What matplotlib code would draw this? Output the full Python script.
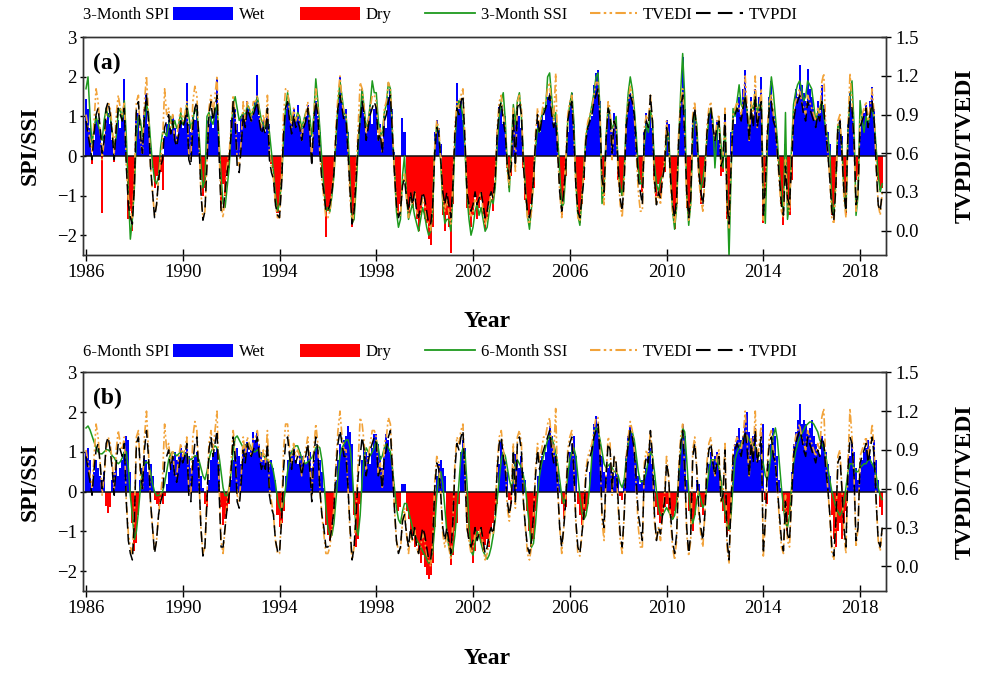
import numpy as np
import matplotlib
matplotlib.use("Agg")
import matplotlib.pyplot as plt
from matplotlib.patches import Patch
from matplotlib.lines import Line2D

plt.rcParams['font.family'] = ['Liberation Serif', 'DejaVu Serif']

# ---------------- data (monthly, Jan 1986 - Dec 2018) ----------------
start_year = 1986
end_year = 2018
year_ticks = [1986, 1990, 1994, 1998, 2002, 2006, 2010, 2014, 2018]
left_ticks = [-2, -1, 0, 1, 2, 3]
right_ticks = [0.0, 0.3, 0.6, 0.9, 1.2, 1.5]

spi3 = [
    1.45, 1.2, 0.7, -0.2, 0.4, 1.0, 0.9, 0.6, -1.45, 0.5, 0.9, 1.1,
    0.8, 0.4, -0.15, 0.5, 0.9, 0.7, 1.1, 1.95, 0.3, -1.6, -1.4, -1.9,
    -1.0, 0.9, 1.1, 0.6, 0.4, 1.2, 1.6, 0.8, 0.2, -0.3, -0.8, -0.5,
    -0.6, -0.4, -0.85, 0.5, 0.8, 0.9, 0.6, 1.0, 0.7, 0.5, 0.8, 0.9,
    0.7, 1.0, 1.85, 0.8, 0.6, 1.0, 0.9, 1.2, 0.5, -0.6, -1.0, -0.8,
    0.9, 0.8, 1.0, 0.7, 1.2, 1.95, 0.3, -1.3, -0.7, -1.0, -0.5, -0.3,
    0.9, 1.3, 1.2, 0.8, 0.6, 1.0, 1.1, 0.9, 1.4, 1.2, 1.0, 1.1,
    1.4, 2.05, 1.0, 0.7, 0.9, 0.6, 1.0, 0.8, -0.2, -0.3, -0.9, -1.45,
    -1.2, -0.5, 0.6, 1.2, 1.4, 1.0, 0.8, 1.2, 0.9, 1.3, 0.9, 0.7,
    0.8, 1.0, 1.3, 0.9, 0.2, 1.1, 1.4, 1.0, 0.6, -0.3, -1.0, -2.05,
    -1.4, -1.2, -0.9, -0.4, 0.3, 1.2, 2.0, 1.4, 1.0, 1.2, 0.6, -0.8,
    -1.8, -1.5, -0.6, 0.4, 1.0, 1.7, 1.1, 0.6, 0.9, 1.3, 0.8, 1.2,
    1.3, 0.5, 0.8, 0.3, 1.0, 0.7, 1.5, 1.7, 1.2, 0.1, -1.0, -1.5,
    -1.2, 0.95, 0.6, -1.2, -1.5, -1.0, -1.3, -1.0, -1.6, -1.9, -1.5, -1.0,
    -1.6, -1.7, -2.1, -2.25, -1.8, 0.6, 0.9, 0.7, 0.3, -1.5, -1.9, -1.5,
    -1.8, -2.45, -1.2, 0.5, 1.85, 1.2, 1.4, 0.9, 0.3, -1.3, -1.5, -1.8,
    -1.5, -1.0, -1.6, -1.3, -1.1, -1.5, -1.85, -1.6, -1.2, -0.9, -1.4, -0.5,
    0.6, 1.25, 1.2, 0.8, 1.0, -0.3, -0.8, -0.5, 1.0, 0.9, 1.3, 1.0,
    0.7, -0.3, -1.1, -1.4, -1.5, -1.2, -0.8, 0.3, 0.9, 0.6, 1.1, 0.9,
    1.3, 1.5, 1.6, 1.2, 0.8, 1.0, 0.3, -0.6, -1.5, -1.0, -0.5, 0.6,
    1.4, 1.6, 0.8, -0.8, -1.5, -1.7, -1.2, -0.6, 0.4, 0.7, 0.9, 1.0,
    1.8, 2.1, 2.17, 1.4, -0.5, -1.0, 0.5, 1.3, 1.0, 0.6, 1.1, 0.9,
    -0.6, -0.9, -1.0, -0.5, 0.8, 1.5, 1.6, 1.5, 1.2, 0.6, -0.4, -0.6,
    -0.9, 0.6, 1.1, 0.8, 1.0, 0.7, -0.6, -1.0, -0.7, -1.0, -0.5, -0.4,
    0.9, 0.8, -0.8, -1.5, -1.85, -1.2, 0.5, 1.5, 2.5, 1.2, -1.3, -1.6,
    -1.0, 1.0, 1.25, 0.6, -0.5, -1.2, -0.8, -0.3, 0.6, 1.1, 1.2, 0.8,
    0.6, 0.9, 0.4, -0.5, -0.4, 1.0, -1.6, -1.9, 0.6, 1.0, 0.8, 1.2,
    1.5, 1.1, 1.7, 2.17, 1.2, 0.8, 1.5, 1.0, 1.7, 1.0, 1.5, 2.0,
    -1.7, -1.0, 0.5, 1.5, 1.9, 1.2, 1.0, 0.5, -0.5, -1.2, -1.75, 0.3,
    -1.0, -1.5, -0.6, 1.0, 1.7, 1.5, 2.3, 1.8, 1.6, 1.4, 2.2, 1.7,
    1.5, 1.2, 1.0, 1.4, 1.1, 1.8, 1.3, 0.8, 0.6, 0.3, -1.5, -1.65,
    -0.8, 0.6, 0.9, 0.5, -1.0, -1.5, 0.8, 1.6, 1.2, 0.6, -0.6, -0.5,
    0.5, 0.9, 1.1, 1.3, 0.8, 1.4, 1.75, 1.2, 0.3, -0.6, -0.85, -0.8,
]

ssi3 = [
    1.7, 2.0, 1.0, 0.3, 0.7, 1.0, 0.8, 0.6, 0.4, 0.9, 1.2, 1.0,
    1.0, 0.6, 0.2, 0.5, 1.1, 1.2, 0.9, 1.4, 0.5, -0.9, -2.1, -1.6,
    -0.8, 0.5, 1.0, 0.9, 0.5, 0.9, 1.3, 1.1, 0.4, -0.2, -0.6, -0.7,
    -0.5, 0.2, 0.6, 0.6, 0.5, 0.8, 1.0, 0.7, 0.9, 0.7, 0.8, 1.1,
    0.8, 0.9, 1.3, 1.0, 0.7, 0.9, 1.2, 1.1, 0.6, -0.2, -0.8, -0.6,
    1.0, 1.1, 0.9, 0.8, 1.1, 1.3, 0.4, -0.5, -1.2, -1.3, -0.8, -0.3,
    0.6, 1.3, 1.5, 1.2, 0.9, 1.0, 1.1, 1.0, 1.3, 1.2, 1.0, 1.2,
    1.3, 1.5, 1.2, 0.9, 0.8, 0.7, 0.9, 0.6, 0.1, -0.4, -1.0, -1.4,
    -1.2, -0.6, 0.4, 1.2, 1.6, 1.3, 0.9, 1.0, 0.9, 1.1, 1.0, 0.7,
    0.9, 1.1, 1.2, 1.0, 0.5, 1.0, 1.95, 1.4, 0.7, -0.1, -0.8, -1.4,
    -1.3, -1.4, -1.0, -0.5, 0.4, 1.3, 1.9, 1.5, 1.1, 1.0, 0.5, -0.6,
    -1.7, -1.6, -0.8, 0.2, 1.0, 1.7, 1.2, 0.7, 0.9, 1.3, 1.9, 1.6,
    1.6, 0.9, 0.5, 0.6, 1.1, 1.3, 1.85, 1.7, 0.6, -0.3, -1.4, -1.8,
    -1.6, -0.5, 0.0, -1.0, -1.6, -1.4, -1.2, -1.5, -1.7, -1.9, -1.6, -1.3,
    -1.5, -1.8, -2.0, -1.9, -1.4, 0.2, 0.8, 0.6, -0.2, -1.2, -1.7, -1.6,
    -1.6, -1.9, -1.0, 0.3, 1.2, 1.4, 1.3, 1.0, 0.2, -1.0, -1.6, -2.0,
    -1.8, -1.4, -1.2, -1.5, -1.3, -1.6, -1.9, -1.8, -1.4, -1.1, -1.2, -0.8,
    0.3, 1.0, 1.4, 1.6, 0.9, -0.2, -0.9, 0.2, 1.3, 0.8, 1.4, 1.6,
    1.0, 0.0, -0.8, -1.5, -1.85, -1.3, -0.6, 0.2, 0.7, 0.6, 1.0, 1.2,
    1.2, 2.0, 2.1, 1.5, 0.9, 1.1, 0.5, -0.4, -1.3, -1.2, -0.4, 0.9,
    1.3, 1.6, 0.9, -0.6, -1.5, -1.75, -1.1, -0.3, 0.5, 0.8, 1.0, 1.3,
    1.6, 2.0, 2.1, 1.2, -1.2, -0.8, 0.5, 1.25, 1.0, 0.7, 0.8, 1.0,
    -0.3, -0.8, -1.0, -0.4, 0.9, 1.6, 2.0, 1.7, 1.2, 0.5, -0.3, -0.7,
    -0.7, 0.3, 0.8, 0.6, 1.15, 0.9, -0.2, -0.7, -0.9, -0.6, -0.5, -0.3,
    0.4, 0.6, -0.5, -1.4, -1.85, -1.3, 0.3, 1.6, 2.59, 1.5, -1.0, -1.75,
    -1.2, 0.5, 1.1, 0.8, -0.3, -0.85, -0.6, -0.2, 0.4, 1.0, 1.2, 0.9,
    -0.3, 0.5, 0.9, 0.3, -0.3, 0.8, -0.8, -2.55, -0.5, 1.2, 1.0, 1.4,
    1.8, 1.3, 1.2, 1.5, 1.1, 0.7, 1.3, 1.2, 1.6, 1.1, 1.3, 1.5,
    -1.0, -1.7, 0.2, 1.4, 2.0, 1.6, 1.0, 0.4, -0.4, -1.0, -1.4, 1.1,
    -1.6, -1.2, 0.2, 1.3, 1.6, 1.8, 1.9, 1.7, 1.4, 1.5, 1.9, 1.8,
    1.7, 1.3, 0.9, 1.1, 1.2, 1.4, 1.0, 0.7, 0.5, 0.1, -1.2, -1.5,
    -0.6, 0.8, 0.7, 0.3, -0.9, -1.4, 0.6, 1.5, 1.9, 0.8, -1.5, -1.0,
    1.4, 0.9, 0.6, 1.0, 0.8, 1.1, 1.2, 0.9, 0.2, -0.5, -0.9, -0.7,
]

spi6 = [
    1.0, 1.1, 0.8, 0.1, 0.5, 0.8, 0.6, 0.4, 0.3, 0.5, -0.35, -0.55,
    -0.4, 0.3, 0.5, 0.7, 0.4, 0.6, 0.8, 1.0, 1.4, 1.3, 0.5, -0.8,
    -1.5, -1.3, -0.6, 0.3, 0.6, 0.9, 0.8, 0.5, 0.7, 0.4, -0.2, -0.3,
    -0.35, -0.2, -0.3, -0.1, 0.2, 0.5, 0.7, 0.9, 1.0, 0.8, 0.9, 1.1,
    0.9, 1.0, 1.1, 0.9, 0.6, 0.8, 0.9, 1.0, 0.8, 0.4, 0.1, -0.3,
    -0.4, 0.3, 0.8, 0.9, 1.0, 1.1, 0.7, -0.4, -0.85, -0.7, -0.5, -0.3,
    0.3, 0.8, 1.0, 1.1, 0.9, 0.7, 1.0, 1.2, 1.25, 1.0, 1.1, 1.5,
    1.3, 1.5, 1.2, 1.0, 0.8, 0.9, 0.8, 0.7, 0.8, 0.6, 0.3, -0.6,
    -0.9, -0.8, -0.5, 0.4, 0.8, 1.0, 0.9, 1.1, 0.8, 0.7, 1.0, 0.9,
    0.8, 0.7, 0.9, 1.0, 0.6, 0.8, 1.1, 1.0, 0.8, 0.5, 0.1, -0.85,
    -1.1, -1.25, -1.0, -0.7, 0.3, 0.8, 1.2, 1.1, 1.3, 1.4, 1.65, 1.5,
    1.2, -0.6, -1.4, -1.2, -0.3, 0.8, 1.2, 1.0, 0.9, 0.7, 1.1, 1.45,
    1.45, 1.2, 0.9, 0.6, 0.9, 1.45, 1.3, 1.0, 0.7, 0.2, -0.3, -0.5,
    -0.4, 0.2, 0.2, -0.5, -0.7, -1.0, -1.1, -1.4, -1.3, -1.5, -1.8, -1.6,
    -1.9, -2.1, -2.2, -2.1, -1.8, -0.9, 0.4, 0.7, 0.8, 0.6, 0.4, -1.0,
    -1.4, -1.85, -1.6, -1.0, -0.8, -0.3, 1.0, 1.3, 1.1, -0.8, -1.2, -1.5,
    -1.8, -1.5, -1.2, -1.0, -1.3, -1.5, -1.35, -1.2, -1.4, -1.0, -0.8, -0.5,
    -0.3, 0.7, 1.25, 1.0, 0.8, 0.5, -0.2, -0.3, 0.5, 0.95, 0.8, 0.6,
    0.9, 0.5, 0.3, -0.5, -1.0, -1.4, -1.2, -0.5, 0.4, 0.6, 0.9, 0.8,
    1.0, 1.3, 1.65, 1.4, 1.2, 0.9, 0.5, 0.2, -0.3, -0.7, -0.4, 0.6,
    1.0, 1.2, 1.4, 0.9, -0.3, -0.6, -0.85, -0.7, -0.5, -0.3, 0.5, 1.2,
    1.7, 1.9, 1.6, 1.3, 0.9, 0.5, 0.4, 0.6, 0.7, 0.5, 0.4, 0.6,
    0.4, -0.1, -0.2, 0.3, 0.9, 1.4, 1.65, 1.5, 1.2, 0.8, 0.4, 0.2,
    0.3, 0.2, 0.6, 1.0, 1.1, 0.7, 0.3, -0.4, -0.6, -0.8, -0.6, -0.4,
    -0.3, -0.5, -0.6, -0.7, -0.5, -0.2, 0.6, 1.2, 1.7, 1.4, 0.3, -0.5,
    -0.8, -1.0, -0.6, 0.3, 0.2, -0.4, -0.6, -0.3, 0.3, 0.7, 1.0, 0.8,
    0.9, 1.0, 0.6, 0.3, -0.5, -0.8, -1.1, -1.0, -0.6, 0.8, 1.2, 1.4,
    1.6, 1.3, 1.4, 1.8, 2.0, 1.5, 1.2, 1.4, 1.6, 1.0, 0.8, 1.2,
    1.7, -0.2, -0.3, 0.7, 1.2, 1.6, 1.4, 0.9, 0.3, 0.1, -0.5, -0.8,
    -1.0, -0.6, 0.5, 1.2, 1.5, 1.8, 2.2, 1.7, 1.8, 1.7, 1.5, 1.6,
    1.8, 1.4, 1.2, 1.0, 0.9, 1.4, 1.2, 1.0, 0.7, 0.4, -0.6, -1.2,
    -1.4, -1.0, -0.8, -1.2, -0.8, -0.5, 0.4, 0.9, 1.2, 1.0, 0.6, 0.3,
    0.5, 0.8, 1.0, 1.1, 1.3, 0.9, 0.7, 1.3, 0.8, 0.3, -0.4, -0.6,
]

ssi6 = [
    1.6, 1.65, 1.55, 1.4, 1.25, 1.1, 1.0, 0.95, 0.95, 1.0, 1.05, 1.05,
    1.0, 0.9, 0.85, 0.75, 0.7, 0.75, 0.85, 1.0, 1.0, 0.6, -0.1, -0.6,
    -1.2, -1.0, -0.5, 0.1, 0.5, 0.7, 0.75, 0.7, 0.5, 0.2, 0.0, -0.1,
    -0.1, -0.05, 0.0, 0.2, 0.5, 0.8, 0.95, 1.0, 0.95, 0.9, 0.95, 1.0,
    1.0, 0.95, 0.9, 0.85, 0.8, 0.85, 0.9, 0.9, 0.8, 0.6, 0.4, 0.3,
    0.5, 0.8, 1.0, 1.1, 1.15, 1.1, 0.9, 0.5, 0.1, -0.1, -0.1, 0.1,
    0.5, 1.0, 1.35, 1.4, 1.3, 1.2, 1.1, 1.15, 1.2, 1.2, 1.1, 1.0,
    1.0, 1.05, 1.0, 0.95, 0.9, 0.85, 0.8, 0.75, 0.7, 0.5, 0.2, -0.2,
    -0.4, -0.5, -0.3, 0.1, 0.5, 0.8, 1.0, 1.1, 1.15, 1.15, 1.0, 0.85,
    0.75, 0.7, 0.75, 0.8, 0.85, 0.95, 1.1, 1.15, 1.1, 0.8, 0.3, -0.4,
    -0.9, -1.1, -1.1, -0.8, -0.2, 0.4, 0.9, 1.1, 1.2, 1.3, 1.3, 1.1,
    0.6, -0.3, -0.9, -1.1, -0.6, 0.3, 0.9, 1.1, 1.0, 0.9, 1.0, 1.1,
    1.3, 1.1, 0.8, 0.9, 1.1, 1.2, 1.1, 1.0, 0.6, 0.1, -0.4, -0.7,
    -0.8, -0.5, -0.3, -0.3, -0.5, -0.7, -0.9, -1.1, -1.2, -1.3, -1.4, -1.5,
    -1.6, -1.7, -1.8, -1.7, -1.5, -0.9, -0.1, 0.4, 0.5, 0.2, -0.4, -1.0,
    -1.4, -1.6, -1.5, -1.1, -0.5, 0.2, 0.9, 1.1, 1.0, 0.2, -0.8, -1.5,
    -1.6, -1.3, -1.0, -1.1, -1.3, -1.5, -1.6, -1.7, -1.6, -1.4, -1.1, -0.7,
    -0.2, 0.3, 0.8, 1.0, 0.9, 0.6, 0.3, 0.1, 0.3, 0.7, 0.8, 0.7,
    0.6, 0.4, 0.1, -0.4, -0.9, -1.4, -1.3, -0.8, -0.1, 0.4, 0.7, 0.9,
    1.1, 1.3, 1.4, 1.35, 1.2, 1.0, 0.7, 0.3, -0.1, -0.3, -0.1, 0.4,
    0.8, 1.0, 1.1, 0.9, 0.4, -0.1, -0.5, -0.7, -0.6, -0.3, 0.2, 0.9,
    1.4, 1.6, 1.55, 1.3, 1.0, 0.7, 0.6, 0.65, 0.7, 0.6, 0.5, 0.5,
    0.4, 0.2, 0.1, 0.3, 0.8, 1.2, 1.5, 1.5, 1.3, 0.9, 0.5, 0.25,
    0.25, 0.3, 0.5, 0.8, 1.0, 0.9, 0.5, 0.0, -0.4, -0.6, -0.6, -0.5,
    -0.4, -0.5, -0.6, -0.7, -0.6, -0.3, 0.3, 1.0, 1.6, 1.5, 0.8, 0.0,
    -0.6, -0.8, -0.6, -0.2, 0.0, -0.2, -0.4, -0.3, 0.1, 0.5, 0.8, 0.8,
    0.8, 0.8, 0.6, 0.3, -0.2, -0.5, -0.8, -0.95, -0.6, 0.2, 0.8, 1.0,
    1.1, 1.2, 1.3, 1.4, 1.4, 1.3, 1.2, 1.2, 1.1, 1.0, 0.9, 0.9,
    0.7, 0.4, 0.3, 0.6, 1.0, 1.4, 1.6, 1.3, 0.7, 0.1, -0.4, -0.8,
    -0.9, -0.6, 0.1, 0.7, 1.0, 1.2, 1.35, 1.45, 1.55, 1.65, 1.7, 1.75,
    1.75, 1.7, 1.6, 1.5, 1.3, 1.2, 1.1, 0.9, 0.6, 0.3, 0.0, -0.2,
    -0.4, -0.5, -0.6, -0.5, -0.3, 0.1, 0.5, 0.7, 0.7, 0.6, 0.5, 0.5,
    0.6, 0.65, 0.7, 0.7, 0.8, 0.8, 0.7, 0.6, 0.4, 0.1, -0.1, -0.2,
]

tvpdi = [
    0.85, 0.75, 0.65, 0.55, 0.75, 0.9, 0.95, 0.8, 0.6, 0.7, 0.95, 1.0,
    0.9, 0.75, 0.55, 0.8, 0.95, 0.9, 0.85, 0.95, 0.5, 0.2, 0.1, 0.05,
    0.35, 0.95, 1.0, 0.75, 0.6, 0.9, 1.05, 0.85, 0.5, 0.3, 0.1, 0.2,
    0.4, 0.5, 0.55, 0.8, 0.85, 0.9, 0.75, 0.85, 0.7, 0.65, 0.75, 0.85,
    0.8, 0.85, 0.95, 0.55, 0.5, 0.8, 0.95, 1.0, 0.7, 0.3, 0.08, 0.15,
    0.5, 0.9, 1.0, 0.85, 0.95, 1.05, 0.6, 0.15, 0.15, 0.3, 0.45, 0.55,
    0.75, 1.0, 0.85, 0.5, 0.45, 0.65, 0.9, 0.8, 0.95, 0.9, 0.85, 0.9,
    0.95, 1.0, 0.85, 0.75, 0.8, 0.75, 0.95, 0.55, 0.45, 0.4, 0.2, 0.12,
    0.1, 0.35, 0.75, 0.95, 1.0, 0.85, 0.75, 0.9, 0.8, 0.85, 0.8, 0.7,
    0.8, 0.85, 0.95, 0.75, 0.5, 0.85, 1.0, 0.9, 0.6, 0.4, 0.3, 0.15,
    0.15, 0.2, 0.3, 0.45, 0.75, 0.95, 1.05, 0.95, 0.85, 0.85, 0.6, 0.3,
    0.05, 0.15, 0.4, 0.7, 0.85, 1.0, 0.9, 0.7, 0.8, 0.9, 0.95, 1.0,
    0.95, 0.7, 0.75, 0.6, 0.85, 0.9, 1.0, 1.05, 0.75, 0.45, 0.2, 0.1,
    0.15, 0.35, 0.4, 0.25, 0.15, 0.3, 0.2, 0.3, 0.15, 0.1, 0.2, 0.3,
    0.25, 0.15, 0.05, 0.05, 0.2, 0.6, 0.8, 0.75, 0.55, 0.3, 0.2, 0.3,
    0.2, 0.1, 0.35, 0.75, 0.95, 0.9, 1.0, 1.05, 0.7, 0.3, 0.2, 0.15,
    0.2, 0.3, 0.2, 0.25, 0.3, 0.2, 0.1, 0.15, 0.25, 0.3, 0.25, 0.4,
    0.75, 0.95, 1.0, 0.85, 0.75, 0.5, 0.4, 0.5, 0.9, 0.5, 0.95, 1.0,
    0.9, 0.5, 0.3, 0.15, 0.1, 0.2, 0.4, 0.7, 0.9, 0.75, 0.85, 0.9,
    0.95, 1.0, 1.05, 0.9, 0.8, 0.85, 0.6, 0.3, 0.15, 0.3, 0.5, 0.85,
    0.95, 1.0, 0.75, 0.35, 0.15, 0.1, 0.25, 0.4, 0.7, 0.8, 0.85, 0.9,
    1.0, 1.05, 1.1, 0.85, 0.4, 0.3, 0.7, 0.95, 0.9, 0.6, 0.85, 0.8,
    0.5, 0.25, 0.15, 0.4, 0.8, 0.95, 1.05, 1.0, 0.9, 0.65, 0.4, 0.3,
    0.2, 0.75, 0.85, 0.8, 1.05, 0.85, 0.4, 0.2, 0.3, 0.25, 0.4, 0.5,
    0.8, 0.7, 0.4, 0.2, 0.1, 0.25, 0.7, 0.95, 1.05, 0.75, 0.3, 0.1,
    0.25, 0.85, 0.95, 0.75, 0.45, 0.3, 0.2, 0.4, 0.75, 0.9, 0.95, 0.8,
    0.7, 0.8, 0.85, 0.5, 0.55, 0.9, 0.2, 0.05, 0.5, 0.85, 0.9, 0.95,
    0.9, 0.85, 0.95, 1.05, 0.9, 0.7, 0.95, 0.8, 1.05, 0.8, 0.9, 1.0,
    0.1, 0.35, 0.75, 0.95, 1.0, 0.85, 0.8, 0.6, 0.4, 0.2, 0.12, 0.5,
    0.25, 0.2, 0.5, 0.85, 0.95, 1.0, 1.05, 1.0, 0.9, 0.85, 1.0, 0.95,
    0.9, 0.85, 0.8, 0.9, 0.85, 1.0, 0.95, 0.75, 0.6, 0.4, 0.15, 0.08,
    0.35, 0.8, 0.85, 0.6, 0.3, 0.15, 0.75, 1.0, 0.95, 0.7, 0.2, 0.3,
    0.8, 0.85, 0.9, 0.95, 0.8, 0.9, 1.0, 0.85, 0.5, 0.2, 0.15, 0.3,
]

tvedi = [
    0.9, 0.8, 0.7, 0.6, 0.85, 1.1, 1.0, 0.8, 0.55, 0.7, 0.9, 1.0,
    0.95, 0.8, 0.6, 0.9, 1.05, 0.95, 0.9, 1.0, 0.5, 0.25, 0.15, 0.1,
    0.4, 1.0, 1.05, 0.7, 0.6, 1.0, 1.2, 0.9, 0.5, 0.3, 0.12, 0.2,
    0.4, 0.55, 0.7, 1.1, 0.9, 0.95, 0.8, 0.9, 0.7, 0.7, 0.85, 0.95,
    0.85, 0.9, 1.0, 0.6, 0.55, 1.0, 1.12, 1.05, 0.7, 0.3, 0.1, 0.15,
    0.55, 0.95, 1.05, 0.9, 1.05, 1.2, 0.65, 0.2, 0.1, 0.3, 0.5, 0.6,
    0.8, 1.05, 0.9, 0.55, 0.5, 0.7, 1.0, 0.85, 1.0, 0.95, 0.85, 1.0,
    1.0, 1.05, 0.9, 0.8, 0.9, 0.8, 1.05, 0.6, 0.5, 0.4, 0.2, 0.1,
    0.1, 0.4, 0.9, 1.1, 1.1, 0.9, 0.8, 0.95, 0.85, 0.9, 0.85, 0.7,
    0.85, 0.9, 1.0, 0.8, 0.55, 0.9, 1.1, 0.95, 0.6, 0.4, 0.25, 0.1,
    0.1, 0.15, 0.3, 0.45, 0.8, 1.05, 1.2, 1.0, 0.9, 0.9, 0.6, 0.25,
    0.05, 0.15, 0.45, 0.8, 1.15, 1.1, 0.95, 0.75, 0.85, 0.95, 1.05, 1.05,
    1.0, 0.7, 0.8, 0.6, 0.95, 1.0, 1.15, 1.1, 0.8, 0.45, 0.2, 0.12,
    0.12, 0.35, 0.45, 0.25, 0.1, 0.25, 0.2, 0.3, 0.15, 0.1, 0.15, 0.25,
    0.2, 0.1, 0.05, 0.0, 0.2, 0.65, 0.85, 0.8, 0.55, 0.25, 0.15, 0.25,
    0.15, 0.05, 0.35, 0.8, 1.0, 0.95, 1.05, 1.1, 0.7, 0.3, 0.2, 0.1,
    0.15, 0.25, 0.2, 0.25, 0.3, 0.15, 0.05, 0.1, 0.2, 0.3, 0.25, 0.4,
    0.8, 1.0, 1.05, 0.9, 0.8, 0.45, 0.35, 0.55, 0.95, 0.45, 1.0, 1.05,
    0.95, 0.5, 0.3, 0.1, 0.05, 0.15, 0.4, 0.75, 0.95, 0.8, 0.9, 1.0,
    1.0, 1.1, 1.15, 0.95, 0.85, 1.22, 0.6, 0.3, 0.1, 0.3, 0.55, 0.9,
    1.0, 1.05, 0.75, 0.35, 0.1, 0.08, 0.25, 0.45, 0.75, 0.85, 0.9, 0.95,
    1.05, 1.15, 1.15, 0.9, 0.35, 0.2, 0.7, 1.0, 0.95, 0.55, 0.85, 0.8,
    0.45, 0.2, 0.1, 0.4, 0.85, 1.0, 1.12, 1.05, 0.9, 0.6, 0.3, 0.15,
    0.15, 0.8, 0.9, 0.85, 1.05, 0.85, 0.35, 0.2, 0.3, 0.2, 0.4, 0.55,
    0.85, 0.7, 0.35, 0.15, 0.05, 0.2, 0.75, 1.0, 1.1, 0.75, 0.25, 0.08,
    0.2, 0.9, 1.0, 0.75, 0.4, 0.25, 0.15, 0.4, 0.8, 0.95, 1.0, 0.8,
    0.7, 0.85, 0.9, 0.5, 0.55, 0.95, 0.15, 0.02, 0.5, 0.9, 0.95, 1.0,
    0.95, 0.9, 1.0, 1.2, 0.95, 0.7, 1.0, 0.85, 1.2, 0.8, 0.95, 1.1,
    0.08, 0.35, 0.8, 1.0, 1.05, 0.9, 0.8, 0.6, 0.35, 0.15, 0.1, 0.55,
    0.2, 0.15, 0.55, 0.9, 1.0, 1.05, 1.1, 1.0, 0.95, 0.9, 1.05, 1.0,
    0.95, 0.9, 0.85, 0.95, 0.9, 1.15, 1.22, 0.8, 0.6, 0.4, 0.1, 0.05,
    0.35, 0.85, 0.9, 0.6, 0.25, 0.1, 0.8, 1.22, 1.0, 0.7, 0.15, 0.3,
    0.85, 0.9, 0.95, 1.0, 0.85, 0.95, 1.1, 0.9, 0.5, 0.2, 0.12, 0.3,
]

# ---------------- figure ----------------
W, H = 984, 674
fig = plt.figure(figsize=(W / 100, H / 100), dpi=100)

n = (end_year - start_year + 1) * 12
t = start_year + np.arange(n) / 12.0

BLUE = '#0000FF'
RED = '#FF0000'
GREEN = '#1E9A1E'
ORANGE = '#F2A33A'
BLACK = '#000000'
EDI_DASH = (0, (5, 1.6, 1.2, 1.6, 1.2, 1.6))
PDI_DASH = (0, (7, 3.5))
LFS = 12  # legend font size

def px_axes(left, top, right, bottom):
    return fig.add_axes([left / W, 1 - bottom / H, (right - left) / W, (bottom - top) / H])

panels = [
    dict(top=37.3, bottom=255, spi=spi3, ssi=ssi3, tag='(a)', name='3-Month', leg_y=15, year_y=322),
    dict(top=372.3, bottom=591, spi=spi6, ssi=ssi6, tag='(b)', name='6-Month', leg_y=352, year_y=658),
]

for p in panels:
    ax = px_axes(83, p['top'], 885.7, p['bottom'])
    spi = np.array(p['spi'])
    colors = np.where(spi >= 0, BLUE, RED)
    ax.bar(t, spi, width=1 / 12.0, color=colors, linewidth=0, zorder=2)
    ax.axhline(0, color='#111111', lw=1.1, zorder=3)
    ax.plot(t, p['ssi'], color=GREEN, lw=1.1, zorder=4)
    ax.set_xlim(1985.876, 2019.06)
    ax.set_ylim(-2.5, 3)
    ax.set_xticks(year_ticks)
    ax.set_yticks(left_ticks)
    ax.tick_params(axis='x', direction='inout', length=8.5, width=1, pad=2, labelsize=13.5)
    ax.tick_params(axis='y', direction='inout', length=5, width=1, pad=2, labelsize=13.5)
    for s in ax.spines.values():
        s.set_color('#333333')
        s.set_linewidth(1.0)
    ax.text(0.012, 0.93, p['tag'], transform=ax.transAxes, fontsize=17,
            fontweight='bold', va='top', ha='left')

    axr = ax.twinx()
    axr.plot(t, tvedi, color=ORANGE, lw=1.2, linestyle=EDI_DASH, zorder=5)
    axr.plot(t, tvpdi, color=BLACK, lw=1.1, linestyle=PDI_DASH, zorder=6)
    axr.set_ylim(-0.19, 1.5)
    axr.set_yticks(right_ticks)
    axr.set_yticklabels([f'{v:.1f}' for v in right_ticks])
    axr.tick_params(axis='y', direction='inout', length=7.7, width=1, pad=3, labelsize=13.5)
    for s in axr.spines.values():
        s.set_color('#333333')
        s.set_linewidth(1.0)

    cy = (p['top'] + p['bottom']) / 2
    fig.text(30 / W, 1 - cy / H, 'SPI/SSI', rotation=90, ha='center', va='center',
             fontsize=17, fontweight='bold')
    fig.text(965 / W, 1 - cy / H, 'TVPDI/TVEDI', rotation=90, ha='center', va='center',
             fontsize=17, fontweight='bold')
    fig.text(487 / W, 1 - p['year_y'] / H, 'Year', ha='center', va='center',
             fontsize=17, fontweight='bold')

    # legend row
    ly = 1 - p['leg_y'] / H
    fig.text(83 / W, ly, p['name'] + ' SPI', ha='left', va='center', fontsize=LFS)
    items = [
        (Patch(facecolor=BLUE, edgecolor='none'), 'Wet', 173, 3.6),
        (Patch(facecolor=RED, edgecolor='none'), 'Dry', 300, 3.6),
        (Line2D([], [], color=GREEN, lw=1.3), p['name'] + ' SSI', 425, 3.0),
        (Line2D([], [], color=ORANGE, lw=1.5, linestyle=EDI_DASH), 'TVEDI', 590, 2.8),
        (Line2D([], [], color=BLACK, lw=1.5, linestyle=PDI_DASH), 'TVPDI', 696, 2.8),
    ]
    for h, lab, xpx, hl in items:
        fig.legend([h], [lab], loc='center left', bbox_to_anchor=(xpx / W, ly),
                   bbox_transform=fig.transFigure, frameon=False, borderpad=0,
                   borderaxespad=0, handlelength=hl, handleheight=0.85,
                   handletextpad=0.35, fontsize=LFS)

fig.savefig('out.png', dpi=100)
